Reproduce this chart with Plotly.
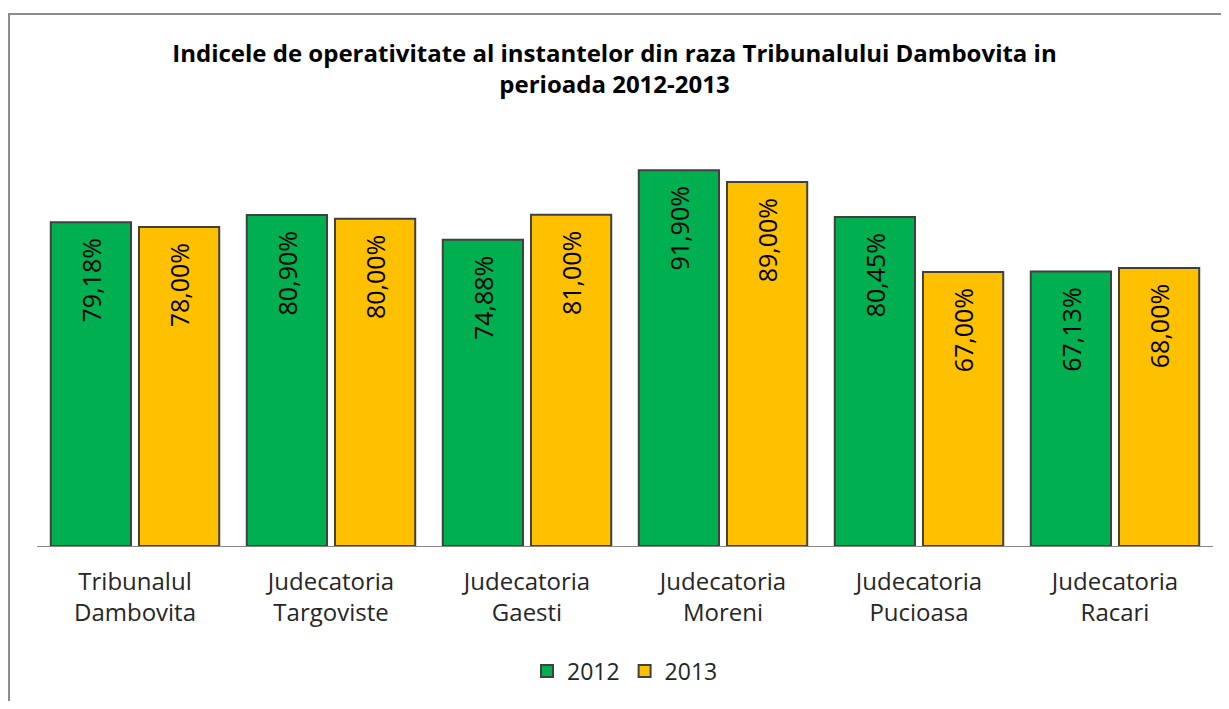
import plotly.graph_objects as go

categories = ["Tribunalul<br>Dambovita", "Judecatoria<br>Targoviste", "Judecatoria<br>Gaesti",
              "Judecatoria<br>Moreni", "Judecatoria<br>Pucioasa", "Judecatoria<br>Racari"]
values_2012 = [79.18, 80.90, 74.88, 91.90, 80.45, 67.13]
values_2013 = [78.00, 80.00, 81.00, 89.00, 67.00, 68.00]
series_names = ["2012", "2013"]
colors = ["#00B050", "#FFC000"]

fig = go.Figure()
for name, vals, col in zip(series_names, [values_2012, values_2013], colors):
    fig.add_trace(go.Bar(
        x=categories, y=vals, name=name,
        marker=dict(color=col, line=dict(color="#404040", width=2)),
        texttemplate="%{y:.2f}%\u00a0\u00a0", textposition="inside",
        insidetextanchor="end", textangle=-90,
        textfont=dict(family="Open Sans", size=25, color="#000000"),
        constraintext="none",
    ))

fig.update_layout(
    width=1213, height=693,
    margin=dict(l=29, r=8, t=129, b=149),
    paper_bgcolor="white", plot_bgcolor="white",
    separators=",.",
    barmode="group", bargap=0.10, bargroupgap=0.09,
    title=dict(text="<b>Indicele de operativitate al instantelor din raza Tribunalului Dambovita in<br>perioada 2012-2013</b>",
               x=0.5, xanchor="center", y=0.922, yanchor="middle",
               font=dict(family="Open Sans", size=24, color="#000000")),
    legend=dict(orientation="h", x=0.5, xanchor="center", y=-0.306, yanchor="middle",
                font=dict(family="Open Sans", size=23, color="#262626"), traceorder="normal"),
    xaxis=dict(showline=True, linecolor="#868686", linewidth=1, ticks="", ticklabelstandoff=14,
               tickfont=dict(family="Open Sans", size=24, color="#262626"), showgrid=False),
    yaxis=dict(range=[0, 100], visible=False, showgrid=False),
    shapes=[dict(type="rect", xref="paper", yref="paper", x0=-0.0238, y0=-0.6, x1=1.2, y1=1.301,
                 line=dict(color="#8c8c8c", width=2), fillcolor="rgba(0,0,0,0)", layer="below")],
)

fig.write_html("out.html")
